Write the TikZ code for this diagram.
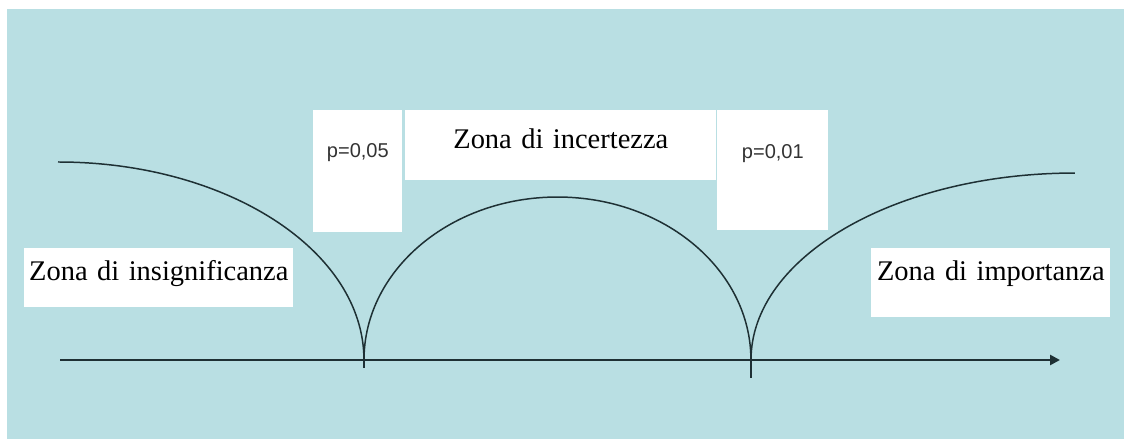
\documentclass[tikz,border=0pt]{standalone}
\usepackage{fontspec}
\setmainfont{Liberation Serif}
\newfontfamily\plabelfont{Liberation Sans}
\usetikzlibrary{arrows.meta}
\definecolor{zonebg}{RGB}{185,223,227}
\definecolor{curveink}{RGB}{30,48,52}

\begin{document}
\begin{tikzpicture}[x=0.02cm, y=0.02cm,
    zonebox/.style={fill=white, inner sep=0pt, align=center, anchor=north west,
        font=\fontsize{16.2}{18}\selectfont},
    pbox/.style={fill=white, inner sep=0pt, align=center, anchor=north west,
        text=black!80, font=\plabelfont\fontsize{11.4}{13}\selectfont},
    curve/.style={curveink, line width=0.85pt}]
    \useasboundingbox (0,0) rectangle (1124,439);
    \fill[zonebg] (7,0) rectangle (1125,430);
    \coordinate (L) at (58,277);
    \coordinate (C1) at (364,79);
    \coordinate (C2) at (751,79);
    \coordinate (A0) at (60,79);
    \coordinate (A1) at (1060,79);
    % white label boxes
    \node[pbox, text width=1.78cm, text height=0.94cm, text depth=1.5cm] (p05) at (313,329) {p=0,05};
    \node[zonebox, text width=6.22cm, text height=0.76cm, text depth=0.64cm] (incert) at (405,329) {Zona di incertezza};
    \node[pbox, text width=2.22cm, text height=0.96cm, text depth=1.44cm] (p01) at (717,329) {p=0,01};
    \node[zonebox, text width=5.38cm, text height=0.64cm, text depth=0.54cm] (insign) at (24,191) {Zona di insignificanza};
    \node[zonebox, text width=4.78cm, text height=0.64cm, text depth=0.74cm] (import) at (871,191) {Zona di importanza};
    % curves
    \draw[curve] (L) arc[start angle=90, end angle=0, x radius=6.12cm, y radius=3.96cm];
    \draw[curve] (C1) arc[start angle=180, end angle=0, x radius=3.87cm, y radius=3.26cm];
    \draw[curve] (C2) arc[start angle=180, end angle=90, x radius=6.48cm, y radius=3.74cm];
    \draw[curve] (C1) -- ++(0,-8);
    \draw[curve] (C2) -- ++(0,-18);
    % axis
    \draw[curveink, line width=1.5pt, -{Triangle[length=0.2cm, width=0.2cm]}] (A0) -- (A1);
\end{tikzpicture}
\end{document}
